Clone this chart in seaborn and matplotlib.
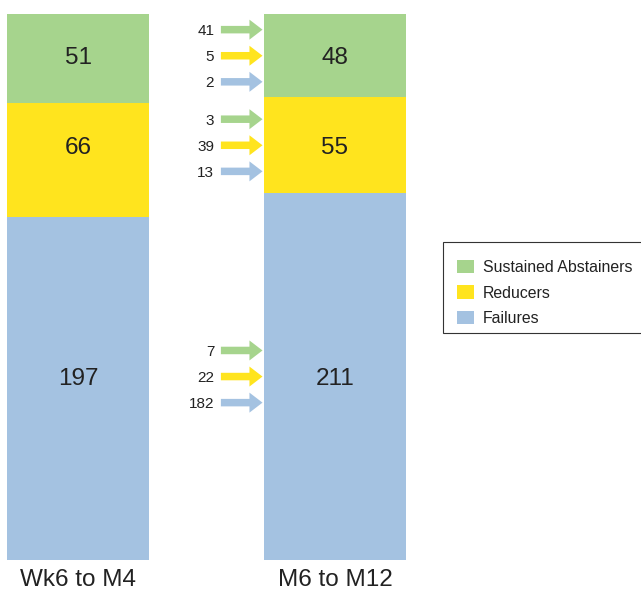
import numpy as np
import pandas as pd
import matplotlib
matplotlib.use("Agg")
import matplotlib.pyplot as plt
import seaborn as sns
from matplotlib.patches import Patch, Rectangle

sns.set_style("white")
plt.rcParams['font.family'] = ['Liberation Sans', 'DejaVu Sans']

# ---- data ----
periods = ["Wk6 to M4", "M6 to M12"]
groups = ["Sustained Abstainers", "Reducers", "Failures"]
abstainers = [51, 48]
reducers = [66, 55]
failures = [197, 211]
# flows into each M6-M12 group, by source group (abstainers, reducers, failures)
into_abstainers = [41, 5, 2]
into_reducers = [3, 39, 13]
into_failures = [7, 22, 182]

colors = {"Sustained Abstainers": "#a6d48d",
          "Reducers": "#ffe41e",
          "Failures": "#a4c2e1"}

seg = np.array([abstainers, reducers, failures])  # rows: group, cols: period
cum = np.cumsum(seg, axis=0)
total = cum[-1].max()

W, H = 641, 590
fig = plt.figure(figsize=(W / 100, H / 100), dpi=100)
ax = fig.add_axes([7/W, 30/H, 399/W, 546/H])

bw = 0.55
# draw cumulative bars from largest to smallest (y inverted: top is 0)
for gi in reversed(range(len(groups))):
    df = pd.DataFrame({"period": periods, "value": cum[gi]})
    sns.barplot(data=df, x="period", y="value", order=periods,
                color=colors[groups[gi]], width=bw, linewidth=0,
                errorbar=None, saturation=1, ax=ax)

ax.set_xlim(-0.2765, 1.2765)
ax.set_ylim(total, 0)
for s in ax.spines.values():
    s.set_visible(False)
ax.set_yticks([])
ax.set_xlabel("")
ax.set_ylabel("")
ax.tick_params(axis="x", length=0, labelsize=17.5, pad=6.5, colors="#222222")

# segment value labels (at M6-M12 segment midpoints)
starts2 = cum[:, 1] - seg[:, 1]
mids2 = starts2 + seg[:, 1] / 2
for pi in range(len(periods)):
    for gi in range(len(groups)):
        ax.text(pi, mids2[gi], str(seg[gi, pi]), ha="center",
                va="center_baseline", fontsize=17.5, color="#222222")

# flow arrows
flows = [into_abstainers, into_reducers, into_failures]
src_colors = [colors[g] for g in groups]
spacing = 15
x0, x1, xt = 0.556, 0.718, 0.530
for gi, fl in enumerate(flows):
    for si, val in enumerate(fl):
        y = mids2[gi] + (si - 1) * spacing
        ax.annotate("", xy=(x1, y), xytext=(x0, y),
                    arrowprops=dict(arrowstyle="simple,head_length=0.47,head_width=0.72,tail_width=0.27",
                                    color=src_colors[si], shrinkA=0, shrinkB=0,
                                    mutation_scale=20, lw=0))
        ax.text(xt, y, str(val), ha="right", va="center_baseline", fontsize=11,
                color="#222222")

# legend with its own frame
fig.patches.append(Rectangle((443/W, 1 - 333/H), 205/W, 91/H,
                             transform=fig.transFigure, facecolor="white",
                             edgecolor="#333333", linewidth=0.8, zorder=0))
handles = [Patch(facecolor=colors[g], edgecolor="none", label=g) for g in groups]
leg = fig.legend(handles=handles, loc="center left",
                 bbox_to_anchor=(457/W, 1 - 293/H), fontsize=11.4,
                 frameon=False, borderpad=0, labelspacing=0.68,
                 handlelength=1.07, handleheight=0.9, handletextpad=0.58,
                 borderaxespad=0)
for t in leg.get_texts():
    t.set_color("#222222")

fig.savefig("out.png", dpi=100)
